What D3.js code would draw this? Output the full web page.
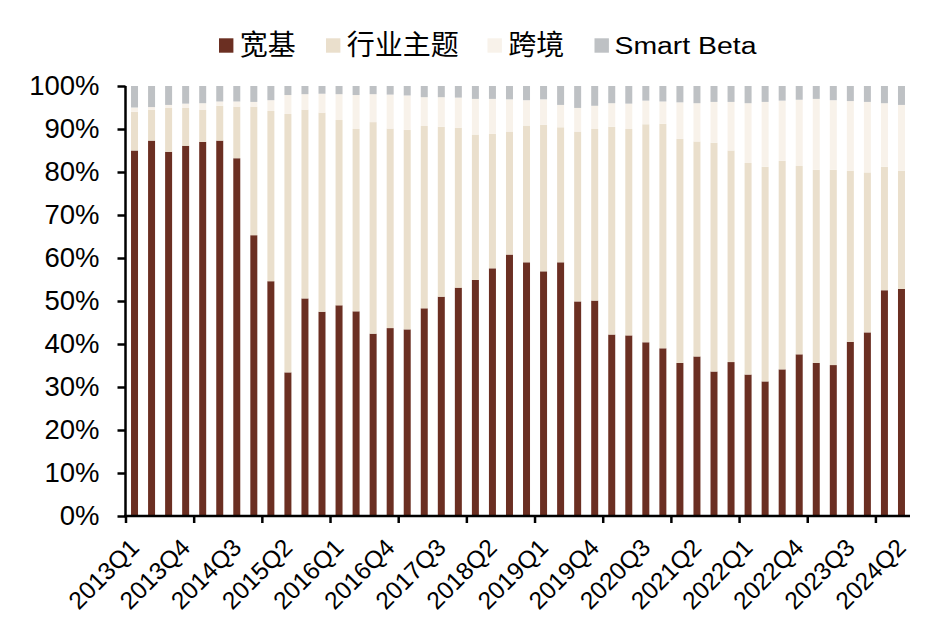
<!DOCTYPE html>
<html>
<head>
<meta charset="utf-8">
<script src="https://cdn.jsdelivr.net/npm/d3@7"></script>
<style>
  html, body { margin: 0; padding: 0; background: #fff; }
  svg { display: block; font-family: "Liberation Sans", Arial, "Noto Sans CJK SC", sans-serif; }
</style>
</head>
<body>
<svg id="chart" width="930" height="639"></svg>
<script>
// ---- data ----
const quarters = [
  "2013Q1","2013Q2","2013Q3","2013Q4","2014Q1","2014Q2","2014Q3","2014Q4",
  "2015Q1","2015Q2","2015Q3","2015Q4","2016Q1","2016Q2","2016Q3","2016Q4",
  "2017Q1","2017Q2","2017Q3","2017Q4","2018Q1","2018Q2","2018Q3","2018Q4",
  "2019Q1","2019Q2","2019Q3","2019Q4","2020Q1","2020Q2","2020Q3","2020Q4",
  "2021Q1","2021Q2","2021Q3","2021Q4","2022Q1","2022Q2","2022Q3","2022Q4",
  "2023Q1","2023Q2","2023Q3","2023Q4","2024Q1","2024Q2"
];
const seriesNames = ["宽基", "行业主题", "跨境", "Smart Beta"];
const broadBase = [85.0,87.3,84.7,86.1,87.0,87.3,83.2,65.3,54.6,33.4,50.6,47.5,49.0,47.6,42.4,43.7,
  43.4,48.3,51.0,53.1,54.9,57.6,60.8,59.0,56.9,59.0,49.9,50.1,42.2,42.0,40.4,39.0,
  35.6,37.1,33.6,35.8,32.9,31.3,34.1,37.6,35.6,35.1,40.5,42.7,52.5,52.8];
const industryTheme = [9.0,7.2,10.2,8.8,7.5,8.1,12.0,29.9,39.6,60.1,43.9,46.3,43.1,42.4,49.2,46.4,
  46.4,42.4,39.5,37.2,33.8,31.3,28.6,31.8,34.1,31.4,39.5,39.9,48.3,48.0,50.7,52.2,
  52.1,50.0,53.2,49.2,49.2,49.9,48.5,43.8,44.9,45.4,39.8,37.2,28.7,27.5];
const crossBorder = [1.0,0.6,0.7,1.0,1.5,1.0,1.2,1.1,2.5,4.4,3.6,4.4,6.0,7.9,6.5,7.9,
  8.0,6.7,6.9,7.0,8.3,8.1,7.5,5.9,5.9,5.2,5.5,5.4,5.5,5.9,5.5,5.2,
  8.5,8.9,9.5,11.3,13.9,15.1,14.0,15.4,16.5,16.2,16.2,16.4,14.8,15.3];
const smartBeta = [5.0,4.9,4.4,4.1,4.0,3.6,3.6,3.7,3.3,2.1,1.9,1.8,1.9,2.1,1.9,2.0,
  2.2,2.6,2.6,2.7,3.0,3.0,3.1,3.3,3.1,4.4,5.1,4.6,4.0,4.1,3.4,3.6,
  3.8,4.0,3.7,3.7,4.0,3.7,3.4,3.2,3.0,3.3,3.5,3.7,4.0,4.4];
const yTicks = [0,10,20,30,40,50,60,70,80,90,100];
const yTickLabels = ["0%","10%","20%","30%","40%","50%","60%","70%","80%","90%","100%"];

// ---- styles ----
const colors = ["#6B2F22", "#EADFCC", "#F8F2EA", "#BEC1C4"];

const svg = d3.select("#chart");
const plotLeft = 126, plotRight = 910, plotTop = 86, plotBottom = 516;

const table = quarters.map((q, i) => ({
  q: q,
  [seriesNames[0]]: broadBase[i],
  [seriesNames[1]]: industryTheme[i],
  [seriesNames[2]]: crossBorder[i],
  [seriesNames[3]]: smartBeta[i]
}));
const stacked = d3.stack().keys(seriesNames)(table);

const x = d3.scaleBand().domain(quarters).range([plotLeft, plotRight]).paddingInner(0.59).paddingOuter(0.295);
const y = d3.scaleLinear().domain([0, 100]).range([plotBottom, plotTop]);

// bars
svg.append("g").selectAll("g").data(stacked).join("g")
  .attr("fill", (d, i) => colors[i])
  .selectAll("rect").data(d => d).join("rect")
  .attr("x", d => x(d.data.q))
  .attr("width", x.bandwidth())
  .attr("y", d => y(d[1]))
  .attr("height", d => y(d[0]) - y(d[1]));

// y axis
const yAxis = svg.append("g").attr("transform", `translate(${plotLeft - 0.5},0)`)
  .call(d3.axisLeft(y).tickValues(yTicks).tickFormat((d, i) => yTickLabels[i]).tickSize(8).tickPadding(18));
yAxis.select(".domain").attr("stroke", "#000").attr("stroke-width", 2.5).attr("d", `M0,${plotBottom}V${plotTop}`);
yAxis.selectAll(".tick line").attr("stroke", "#000").attr("stroke-width", 2.5);
yAxis.selectAll(".tick text").attr("font-size", 27.5).attr("fill", "#000")
  .attr("font-family", "'Liberation Sans', Arial, sans-serif");

// x axis
const tickQuarters = quarters.filter((q, i) => i % 4 === 0);
const xAxisG = svg.append("g").attr("transform", `translate(0,${plotBottom})`);
xAxisG.append("path").attr("d", `M${plotLeft - 2},0H${plotRight}`).attr("stroke", "#000").attr("stroke-width", 2.5).attr("fill", "none");
xAxisG.selectAll("line.tk").data(tickQuarters).join("line").attr("class", "tk")
  .attr("x1", d => x(d) - x.step() * x.paddingOuter())
  .attr("x2", d => x(d) - x.step() * x.paddingOuter())
  .attr("y1", 0).attr("y2", 7)
  .attr("stroke", "#000").attr("stroke-width", 2.5);

const labelQuarters = quarters.filter((q, i) => i % 3 === 0);
svg.append("g").selectAll("text").data(labelQuarters).join("text")
  .attr("transform", d => `translate(${x(d) + x.bandwidth() / 2 + 6},${plotBottom + 33}) rotate(-45)`)
  .attr("text-anchor", "end")
  .attr("font-size", 24.5)
  .attr("fill", "#000")
  .text(d => d);

// legend
const legendX = [219, 326, 487.5, 594.5];
const lg = svg.append("g").selectAll("g").data(seriesNames).join("g")
  .attr("transform", (d, i) => `translate(${legendX[i]},0)`);
lg.append("rect").attr("x", 0).attr("y", 38.3).attr("width", 14.4).attr("height", 14.4)
  .attr("fill", (d, i) => colors[i]);
lg.append("text").attr("x", 20.8).attr("y", 54.5).attr("fill", "#000")
  .attr("font-family", "'Noto Sans CJK SC', sans-serif")
  .attr("font-size", 28)
  .each(function (d) {
    if (/^[\x00-\x7F]+$/.test(d)) {
      d3.select(this)
        .attr("font-family", "'Liberation Sans', Arial, sans-serif")
        .attr("font-size", 23.5)
        .attr("x", 20)
        .attr("y", 53.8)
        .attr("textLength", 142)
        .attr("lengthAdjust", "spacingAndGlyphs");
    }
  })
  .text(d => d);
</script>
</body>
</html>
